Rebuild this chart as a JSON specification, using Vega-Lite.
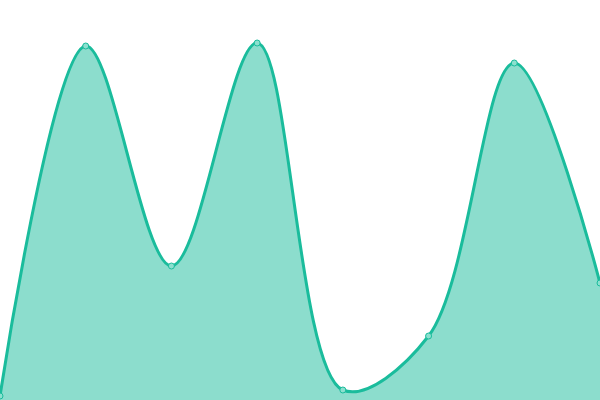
{
  "$schema": "https://vega.github.io/schema/vega-lite/v6.json",
  "width": 600,
  "height": 400,
  "autosize": {"type": "none"},
  "padding": 0,
  "config": {"view": {"stroke": null}},
  "data": {
    "values": [
      {"i": 0, "v": 4},
      {"i": 1, "v": 354},
      {"i": 2, "v": 134},
      {"i": 3, "v": 357},
      {"i": 4, "v": 10},
      {"i": 5, "v": 64},
      {"i": 6, "v": 337},
      {"i": 7, "v": 117}
    ]
  },
  "encoding": {
    "x": {"field": "i", "type": "quantitative", "scale": {"domain": [0, 7], "nice": false, "zero": false}, "axis": null},
    "y": {"field": "v", "type": "quantitative", "scale": {"domain": [0, 400], "nice": false}, "axis": null}
  },
  "layer": [
    {
      "mark": {
        "type": "area",
        "interpolate": "catmull-rom",
        "color": "#1abc9c",
        "fillOpacity": 0.5,
        "line": {"color": "#1abc9c", "strokeWidth": 3, "interpolate": "catmull-rom"}
      }
    },
    {
      "mark": {
        "type": "point",
        "filled": true,
        "fill": "#8ce0cf",
        "stroke": "#1abc9c",
        "strokeWidth": 1,
        "size": 36,
        "opacity": 1
      }
    }
  ]
}
